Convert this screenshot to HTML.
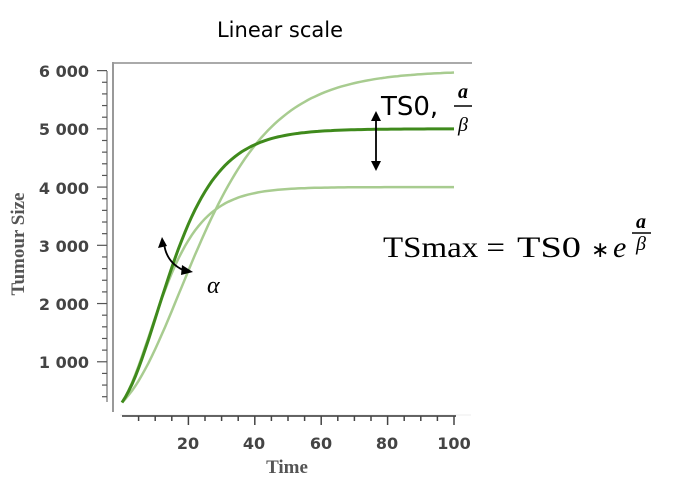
<!DOCTYPE html>
<html><head><style>
html,body{margin:0;padding:0;background:#fff;width:675px;height:481px;overflow:hidden}
svg{display:block}
</style></head><body>
<svg width="675" height="481" xmlns="http://www.w3.org/2000/svg">
<text x="280" y="37" font-family="DejaVu Sans, sans-serif" font-size="21" text-anchor="middle" fill="#000">Linear scale</text>
<line x1="113" y1="63" x2="472" y2="63" stroke="#aaa" stroke-width="2"/>
<line x1="113" y1="62" x2="113" y2="412" stroke="#999" stroke-width="2"/>
<line x1="120" y1="415" x2="471" y2="415" stroke="#eee" stroke-width="1"/>
<line x1="122" y1="416" x2="456" y2="416" stroke="#333" stroke-width="1.5"/>
<line x1="107" y1="71" x2="107" y2="402" stroke="#555" stroke-width="1"/>
<g id="yt" stroke="#555" stroke-width="1.2"></g>
<g id="xt" stroke="#444" stroke-width="1.5"></g>
<g font-family="DejaVu Sans, sans-serif" font-size="16" font-weight="bold" fill="#444" text-anchor="end">
<text x="89" y="77">6 000</text><text x="89" y="135">5 000</text><text x="89" y="194">4 000</text>
<text x="89" y="252">3 000</text><text x="89" y="310">2 000</text><text x="89" y="368">1 000</text>
</g>
<g font-family="DejaVu Sans, sans-serif" font-size="16" font-weight="bold" fill="#444" text-anchor="middle">
<text x="188" y="449">20</text><text x="254" y="449">40</text><text x="321" y="449">60</text><text x="387" y="449">80</text><text x="454" y="449">100</text>
</g>
<text x="287" y="473" font-family="Liberation Serif, serif" font-size="19" font-weight="bold" fill="#555" text-anchor="middle">Time</text>
<text transform="translate(24,244) rotate(-90)" font-family="Liberation Serif, serif" font-size="19" font-weight="bold" fill="#555" text-anchor="middle">Tumour Size</text>
<polyline id="c6" fill="none" stroke="#a8cc90" stroke-width="2.5"/>
<polyline id="c4" fill="none" stroke="#a8cc90" stroke-width="2.5"/>
<polyline id="c5" fill="none" stroke="#3f8a1c" stroke-width="3"/>
<g stroke="#000" stroke-width="1.8" fill="#000">
<line x1="376" y1="118" x2="376" y2="164"/>
<polygon points="376,111 371,121 381,121" stroke="none"/>
<polygon points="376,171 371,161 381,161" stroke="none"/>
<path d="M164,243 Q166,262 183,270" fill="none"/>
<polygon points="162,237 158,248 167,246" stroke="none"/>
<polygon points="193,272 182,265 181,275" stroke="none"/>
</g>
<text x="207" y="293" font-family="Liberation Serif, serif" font-style="italic" font-size="24">α</text>
<text x="381" y="115" font-family="DejaVu Sans, sans-serif" font-size="26">TS0,</text>
<g font-family="Liberation Serif, serif" text-anchor="middle">
<text x="463" y="98" font-size="20" font-weight="bold" font-style="italic">a</text>
<line x1="454" y1="106" x2="472" y2="106" stroke="#000" stroke-width="1.5"/>
<text x="463" y="131" font-size="20" font-style="italic">β</text>
</g>
<g font-family="Liberation Serif, serif" font-size="30">
<text x="383" y="257" textLength="122" lengthAdjust="spacingAndGlyphs">TSmax =</text>
<text x="517" y="257" textLength="64" lengthAdjust="spacingAndGlyphs">TS0</text>
<text x="591" y="257" font-size="22">∗</text>
<text x="613" y="257" font-style="italic">e</text>
</g>
<g font-family="Liberation Serif, serif" text-anchor="middle">
<text x="641" y="228" font-size="20" font-weight="bold" font-style="italic">a</text>
<line x1="632" y1="233" x2="651" y2="233" stroke="#000" stroke-width="1.5"/>
<text x="641" y="250" font-size="20" font-style="italic">β</text>
</g>
</svg>
<script>
function X(t){return 122+t*3.32}
function Y(v){return 420-v*0.05823}
function curve(id,K,b){var p=[];var ab=Math.log(K/300);for(var t=0;t<=100;t+=1){var v=300*Math.exp(ab*(1-Math.exp(-b*t)));p.push(X(t).toFixed(1)+','+Y(v).toFixed(1));}document.getElementById(id).setAttribute('points',p.join(' '));}
curve('c5',5000,0.098);curve('c6',6000,0.063);curve('c4',4000,0.115);
var yt=document.getElementById('yt'),s='';
for(var v=400;v<=6000;v+=200){var y=Y(v);var L=(v%1000==0)?10:5;s+='<line x1="'+(107-L)+'" y1="'+y+'" x2="107" y2="'+y+'"/>';}
yt.innerHTML=s;
var xt=document.getElementById('xt');s='';
for(var t=5;t<=100;t+=5){var x=X(t);var L=(t%20==0)?9:5;s+='<line x1="'+x+'" y1="416" x2="'+x+'" y2="'+(416+L)+'"/>';}
xt.innerHTML=s;
</script>
</body></html>
